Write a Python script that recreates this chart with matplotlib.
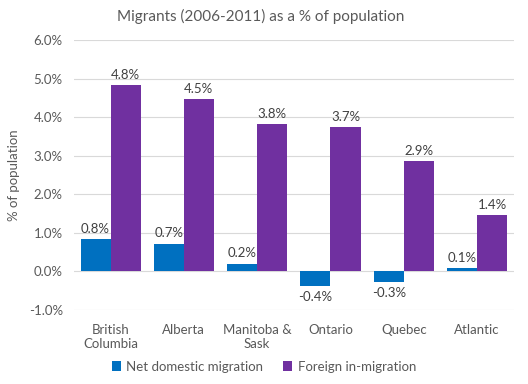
import numpy as np
import matplotlib.pyplot as plt
from matplotlib.ticker import FuncFormatter

regions = ["British\nColumbia", "Alberta", "Manitoba &\nSask", "Ontario", "Quebec", "Atlantic"]
net_domestic = [0.83, 0.72, 0.20, -0.37, -0.27, 0.08]
foreign_in = [4.83, 4.47, 3.82, 3.73, 2.86, 1.45]
net_labels = ["0.8%", "0.7%", "0.2%", "-0.4%", "-0.3%", "0.1%"]
foreign_labels = ["4.8%", "4.5%", "3.8%", "3.7%", "2.9%", "1.4%"]

plt.rcParams['font.family'] = ['Lato', 'DejaVu Sans']
text_color = "#595959"

fig = plt.figure(figsize=(5.28, 3.84), dpi=100)
ax = fig.add_axes([0.140, 0.193, 0.833, 0.703])

x = np.arange(len(regions))
w = 0.41
b1 = ax.bar(x - w / 2, net_domestic, w, color="#0070C0", label="Net domestic migration", zorder=3)
b2 = ax.bar(x + w / 2, foreign_in, w, color="#7030A0", label="Foreign in-migration", zorder=3)

for rect, lab, v in zip(b1, net_labels, net_domestic):
    cx = rect.get_x() + rect.get_width() / 2
    if v >= 0:
        ax.annotate(lab, (cx, v), xytext=(0, 3), textcoords="offset points",
                    ha="center", va="bottom", fontsize=9.5, color="#404040")
    else:
        ax.annotate(lab, (cx, v), xytext=(0, -4), textcoords="offset points",
                    ha="center", va="top", fontsize=9.5, color="#404040")
for rect, lab, v in zip(b2, foreign_labels, foreign_in):
    cx = rect.get_x() + rect.get_width() / 2
    ax.annotate(lab, (cx, v), xytext=(0, 3), textcoords="offset points",
                ha="center", va="bottom", fontsize=9.5, color="#404040")

ax.set_ylim(-1.0, 6.0)
ax.set_yticks(np.arange(-1, 7, 1))
ax.yaxis.set_major_formatter(FuncFormatter(lambda v, p: f"{v:.1f}%"))
ax.set_xlim(-0.5, len(regions) - 0.5)
ax.set_xticks(x)
ax.set_xticklabels(regions)
ax.tick_params(axis="both", length=0, labelsize=9.5, labelcolor=text_color)
ax.tick_params(axis="x", pad=10)
ax.tick_params(axis="y", pad=8)
ax.grid(axis="y", color="#D9D9D9", linewidth=0.8, zorder=0)
for s in ax.spines.values():
    s.set_visible(False)

ax.set_ylabel("% of population", fontsize=9.5, color=text_color, labelpad=6)
fig.text(0.493, 0.958, "Migrants (2006-2011) as a % of population", ha="center", va="center",
         fontsize=11, color=text_color)

fig.legend(handles=[b1, b2], loc="center", bbox_to_anchor=(0.50, 0.045), ncol=2, frameon=False,
           fontsize=9.5, labelcolor=text_color, handlelength=0.7, handleheight=0.7,
           columnspacing=1.5, handletextpad=0.4)

fig.savefig("out.png", dpi=100)
